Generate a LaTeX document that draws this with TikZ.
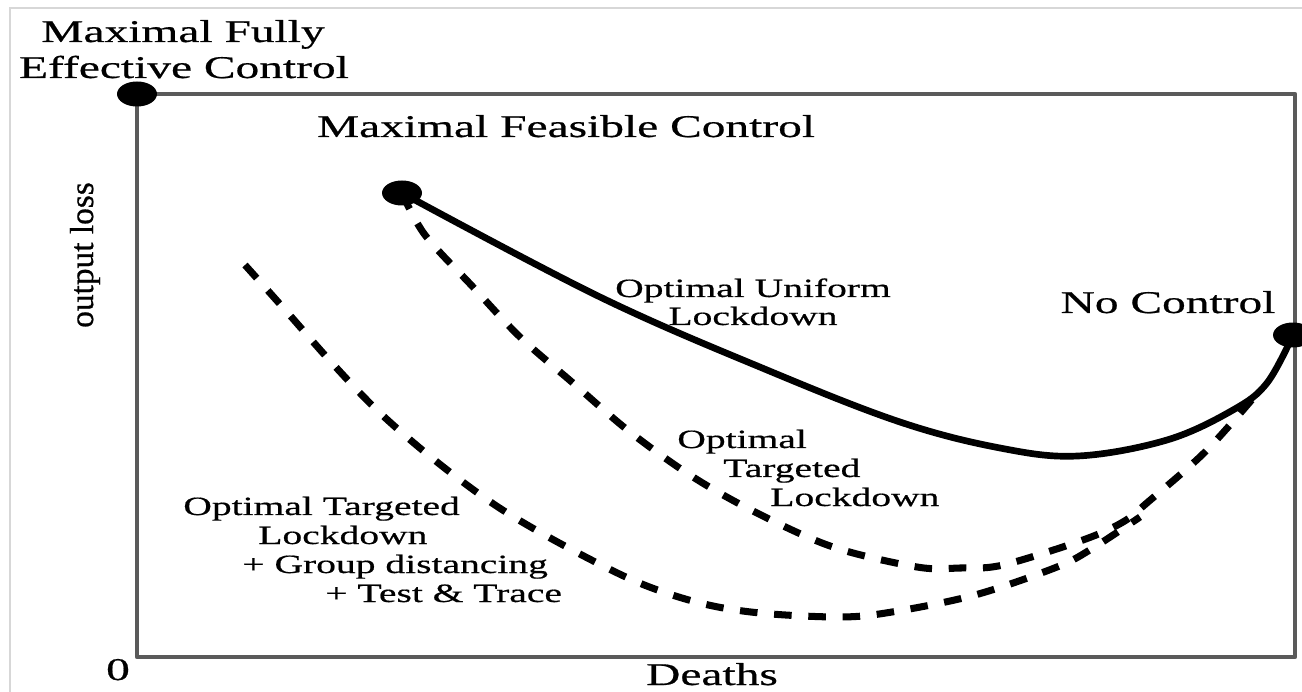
\documentclass[tikz,border=0pt]{standalone}
\usepackage{fontspec}
\setmainfont{Liberation Serif}[FakeStretch=1.5, FakeBold=0.6]
\newfontfamily\axisfont{Liberation Serif}[FakeBold=0.6]
\usetikzlibrary{shapes.geometric}

\begin{document}
\begin{tikzpicture}[x=0.02cm, y=-0.02cm,
    bigtext/.style={font=\fontsize{18}{21}\selectfont, inner sep=0pt},
    smalltext/.style={font=\fontsize{15}{18}\selectfont, inner sep=0pt},
    bigdot/.style={ellipse, fill=black, minimum width=0.8cm, minimum height=0.5cm, inner sep=0pt},
    uniform/.style={line width=3.8pt, line cap=round},
    targeted/.style={line width=4pt, dash pattern=on 10pt off 9.5pt}]

    % Define colors
    \definecolor{framegray}{RGB}{90,90,90}
    \definecolor{edgegray}{RGB}{215,215,215}

    \useasboundingbox (0,0) rectangle (1302,692);

    % Faint border of the page
    \draw[edgegray, line width=0.6pt] (10,692) -- (10,8) -- (1302,8);

    % Draw the frame
    \draw[framegray, line width=2.6pt, line join=round] (137,94) rectangle (1295,657);

    % End points of the curves
    \node[bigdot] (fullctrl) at (137,94) {};
    \node[bigdot] (feasctrl) at (402,193) {};
    \node[bigdot] (noctrl) at (1293,335) {};
    \coordinate (gdstart) at (245,265);   % start of lower curve
    \coordinate (gdjoin) at (1140,517);   % lower curve meets middle one
    \coordinate (tlend) at (1255,396);    % dashed curve meets solid one

    % Optimal uniform lockdown (solid)
    \draw[uniform] plot[smooth, tension=0.6] coordinates {(feasctrl.center) (600,297) (767,370) (900,422) (1000,448) (1078,456) (1167,440) (1233,410) (1267,383) (noctrl.center)};

    % Optimal targeted lockdown (dashed)
    \draw[targeted] plot[smooth, tension=0.55] coordinates {(feasctrl.center) (425,235) (473,287) (520,337) (573,383) (630,432) (693,477) (757,513) (833,547) (917,567) (960,568) (1003,565) (1083,540) (1123,522) (1148,502) (1205,452) (tlend)};

    % Targeted lockdown + group distancing + test & trace (dashed)
    \draw[targeted] plot[smooth, tension=0.55] coordinates {(gdstart) (287,312) (332,363) (380,413) (437,462) (498,507) (563,545) (637,582) (700,603) (760,613) (840,617) (892,612) (975,595) (1057,567) (1093,548) (gdjoin)};

    % Add point labels
    \node[bigtext, anchor=base] (fullA) at (183,42) {Maximal Fully};
    \node[bigtext, anchor=base] (fullB) at (184,78) {Effective Control};
    \node[bigtext, anchor=base] (feaslbl) at (566,137) {Maximal Feasible Control};
    \node[bigtext, anchor=base] (nolbl) at (1168,313) {No Control};

    % Add curve labels
    \node[smalltext, anchor=base] (uniA) at (753,297) {Optimal Uniform};
    \node[smalltext, anchor=base] (uniB) at (753,325) {Lockdown};
    \node[smalltext, anchor=base west] (tarA) at (677,448) {Optimal};
    \node[smalltext, anchor=base west] (tarB) at (723,477) {Targeted};
    \node[smalltext, anchor=base west] (tarC) at (770,506) {Lockdown};
    \node[smalltext, anchor=base west] (grpA) at (183,515) {Optimal Targeted};
    \node[smalltext, anchor=base west] (grpB) at (258,544) {Lockdown};
    \node[smalltext, anchor=base west] (grpC) at (242,573) {+ Group distancing};
    \node[smalltext, anchor=base west] (grpD) at (325,602) {+ Test \& Trace};

    % Add axis labels
    \node[bigtext, anchor=base] (zero) at (118,680) {0};
    \node[bigtext, anchor=base] (deaths) at (712,685) {Deaths};
    \node[font=\axisfont\fontsize{19}{22}\selectfont, inner sep=0pt, rotate=90] (loss) at (85,255) {output loss};

\end{tikzpicture}
\end{document}
